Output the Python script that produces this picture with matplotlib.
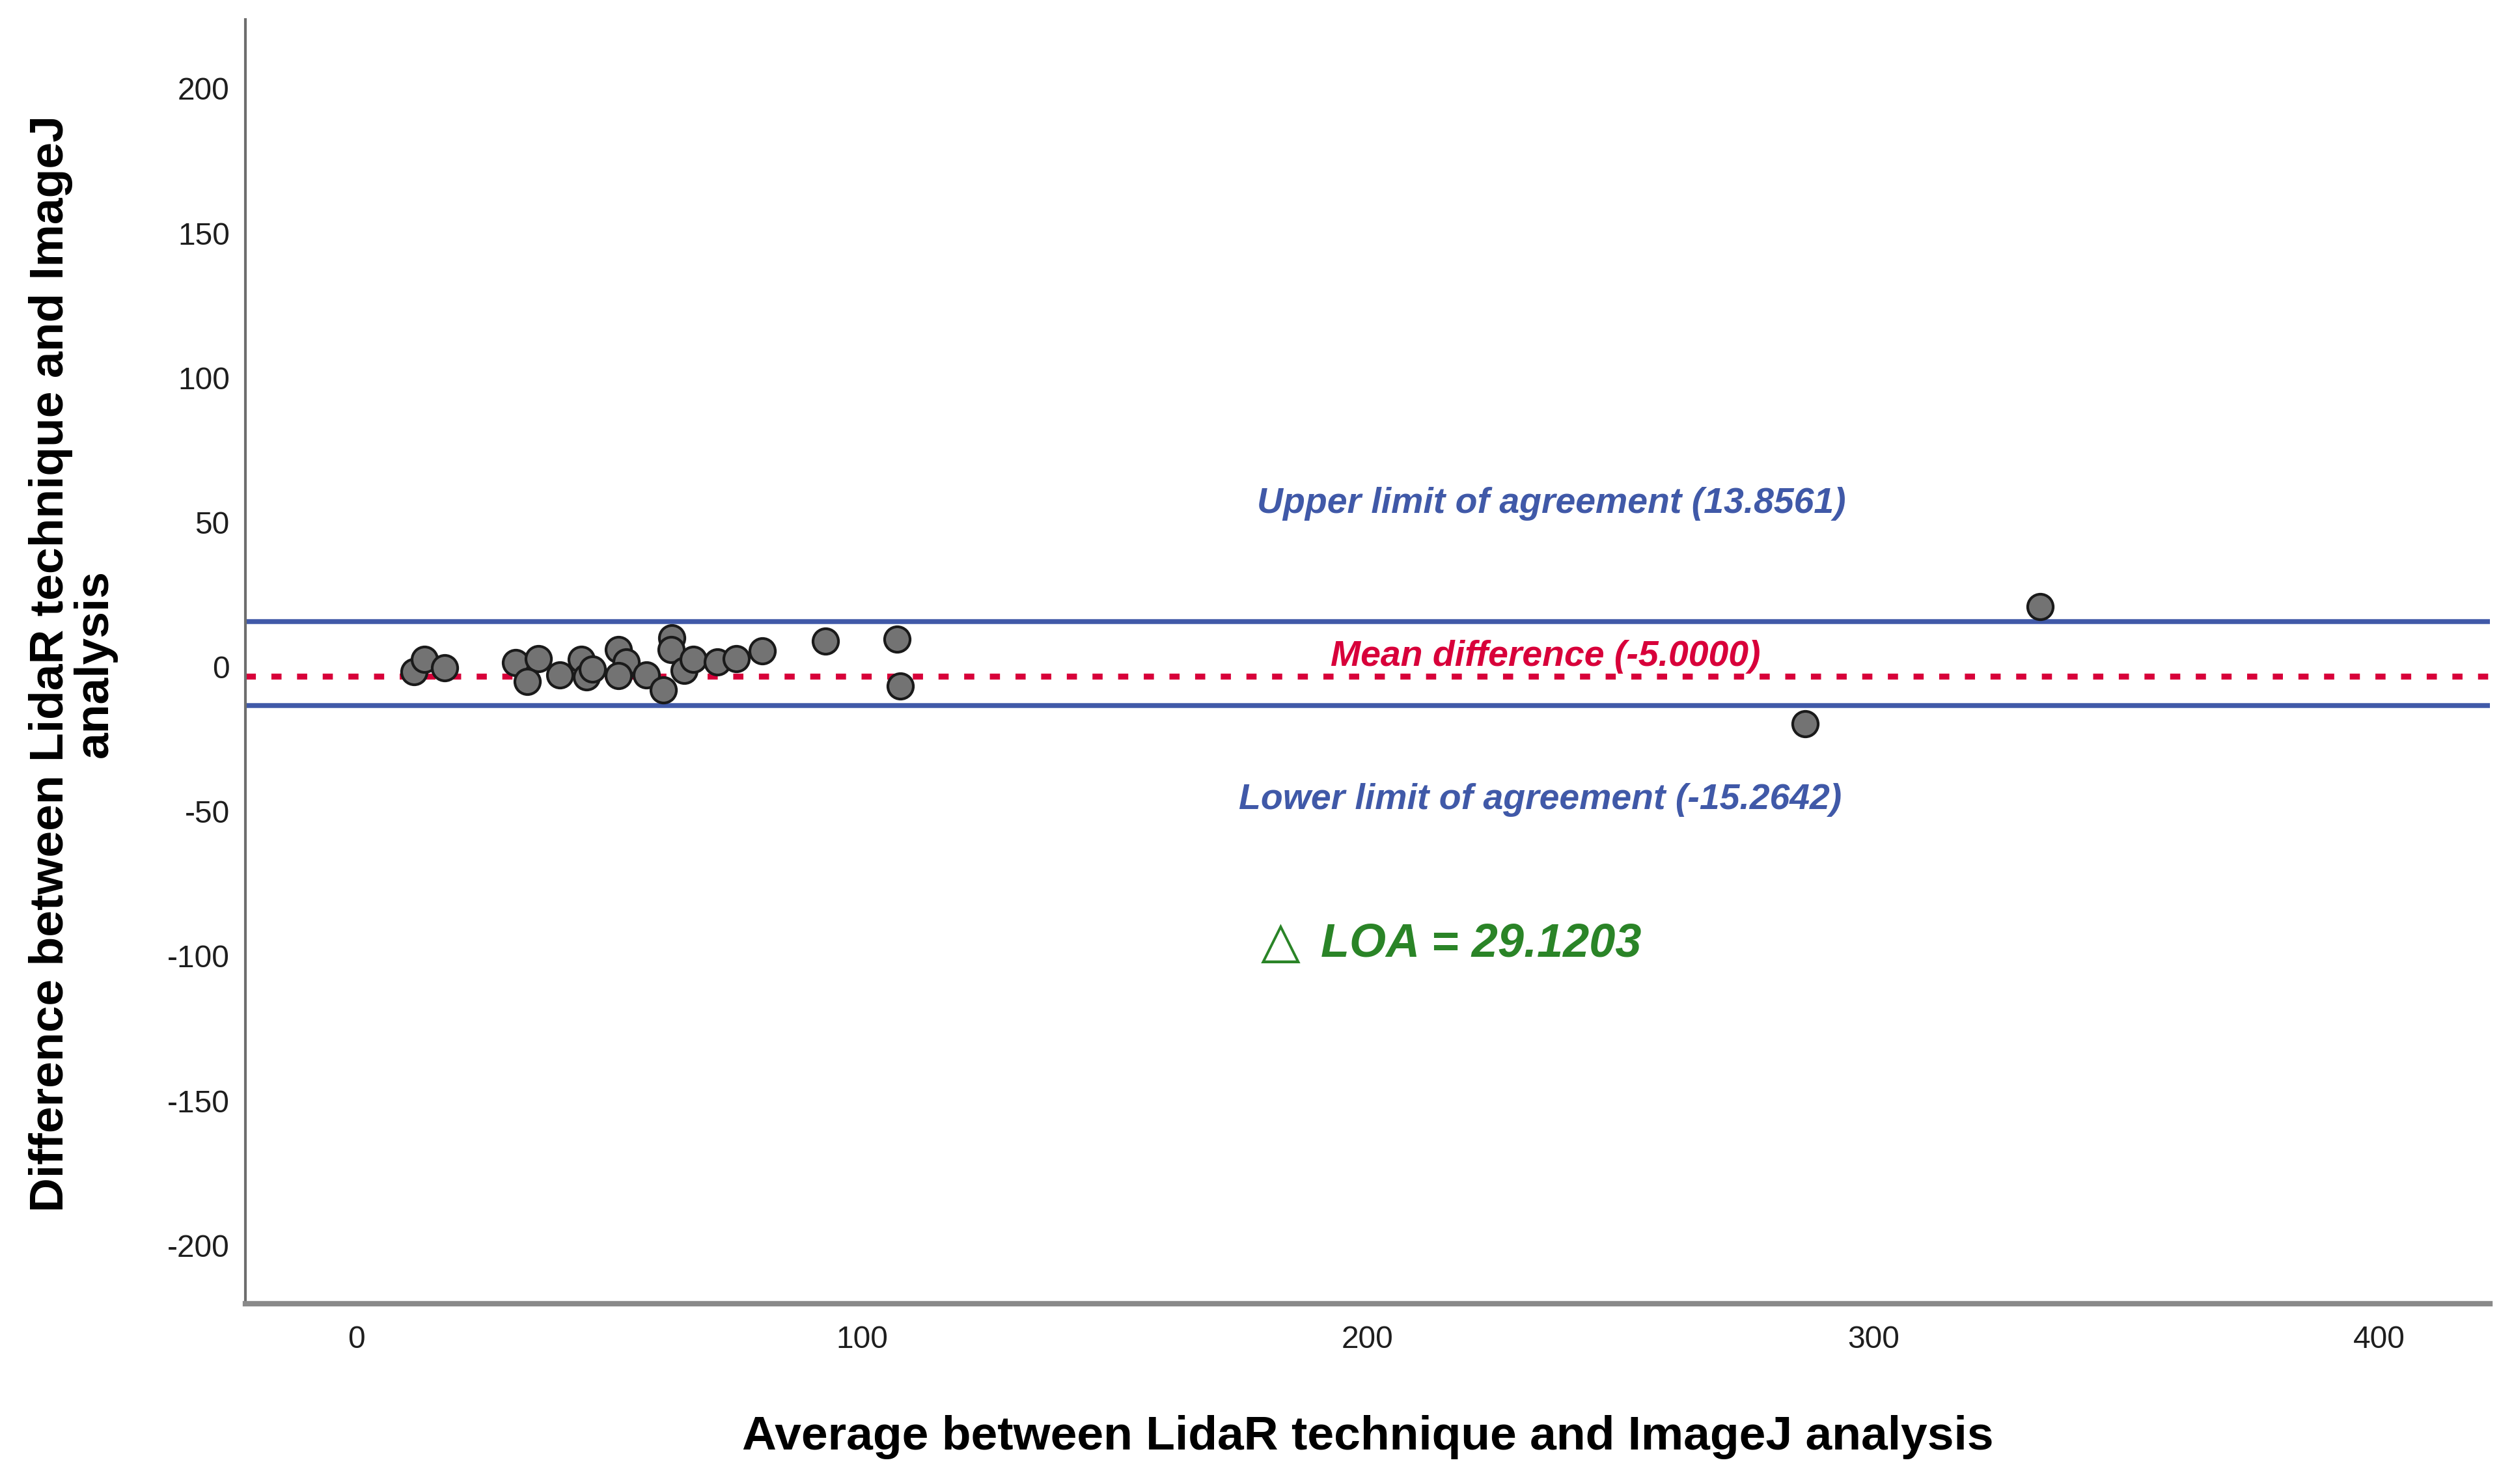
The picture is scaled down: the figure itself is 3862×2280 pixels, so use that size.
import matplotlib
matplotlib.use('Agg')
import matplotlib.pyplot as plt
from matplotlib.transforms import ScaledTranslation

# Bland-Altman data
avg_values = [11.5, 13.5, 17.5, 31.5, 36.0, 33.8, 40.3, 44.5, 45.6, 46.7,
              51.9, 53.4, 51.9, 57.4, 60.7, 62.4, 62.3, 64.9, 66.7, 71.4,
              75.2, 80.3, 92.8, 106.9, 107.6, 333.0, 286.5]
diff_values = [-3.5, 0.8, -2.1, -0.3, 1.0, -6.9, -4.6, 0.8, -5.3, -2.6,
               4.2, -0.1, -4.8, -4.6, -9.8, 8.2, 4.2, -3.0, 0.8, -0.1,
               1.0, 3.7, 7.1, 7.8, -8.4, 19.0, -21.5]
mean_diff = -5.0
upper_loa = 13.8561
lower_loa = -15.2642
delta_loa = 29.1203
x_ticks = [0, 100, 200, 300, 400]
y_ticks = [200, 150, 100, 50, 0, -50, -100, -150, -200]

blue = '#4059a8'
red = '#d8003a'
green = '#2a8427'

plt.rcParams['font.family'] = ['Liberation Sans', 'DejaVu Sans']
plt.rcParams['axes.unicode_minus'] = False

fig = plt.figure(figsize=(3862 / 300, 2280 / 300), dpi=300)
ax = fig.add_axes([0.0976, 0.1215, 0.8928, 0.8653])

ax.axhline(upper_loa, color=blue, lw=1.8, zorder=2)
ax.axhline(lower_loa, color=blue, lw=1.8, zorder=2)
ax.axhline(mean_diff, color=red, lw=2.2, linestyle=(0, (1.7, 2.6)), zorder=2)

ax.scatter(avg_values, diff_values, s=88, facecolor='#737373',
           edgecolor='#1a1a1a', linewidth=1.0, zorder=3)

ax.text(236.3, 51.4, f'Upper limit of agreement ({upper_loa:.4f})', color=blue,
        fontsize=13.3, fontweight='bold', style='italic', ha='center', va='baseline')
ax.text(235.2, -1.5, f'Mean difference ({mean_diff:.4f})', color=red,
        fontsize=13.3, fontweight='bold', style='italic', ha='center', va='baseline')
ax.text(234.1, -51.0, f'Lower limit of agreement ({lower_loa:.4f})', color=blue,
        fontsize=13.3, fontweight='bold', style='italic', ha='center', va='baseline')
ax.text(182.8, -102.0, '\u25b3', color=green, fontsize=19, family='DejaVu Sans',
        ha='center', va='baseline')
ax.text(190.7, -102.0, f'LOA = {delta_loa:.4f}', color=green,
        fontsize=17.3, fontweight='bold', style='italic', ha='left', va='baseline')

ax.set_xlim(-21.9, 421.9)
ax.set_ylim(-222, 222)
ax.set_xticks(x_ticks)
ax.set_yticks(y_ticks)
ax.tick_params(axis='both', length=0, labelsize=11.5, labelcolor='#1e1e1e')
ax.tick_params(axis='y', pad=5.8)
ax.tick_params(axis='x', pad=8)

# SPSS draws the y tick labels a little below the tick position
shift = ScaledTranslation(0, -8 / 300, fig.dpi_scale_trans)
for label in ax.get_yticklabels():
    label.set_transform(label.get_transform() + shift)

for side in ['top', 'right']:
    ax.spines[side].set_visible(False)
ax.spines['left'].set_color('#6e6e6e')
ax.spines['left'].set_linewidth(1.0)
ax.spines['bottom'].set_color('#8a8a8a')
ax.spines['bottom'].set_linewidth(2.0)

fig.text(0.544, 0.0232, 'Average between LidaR technique and ImageJ analysis',
         fontsize=17.6, fontweight='bold', ha='center', va='baseline')
fig.text(0.029, 0.553, 'Difference between LidaR technique and ImageJ\nanalysis',
         fontsize=17.6, fontweight='bold', rotation=90, ha='center', va='center',
         multialignment='center', linespacing=1.0)

fig.savefig('out.png', dpi=300)
